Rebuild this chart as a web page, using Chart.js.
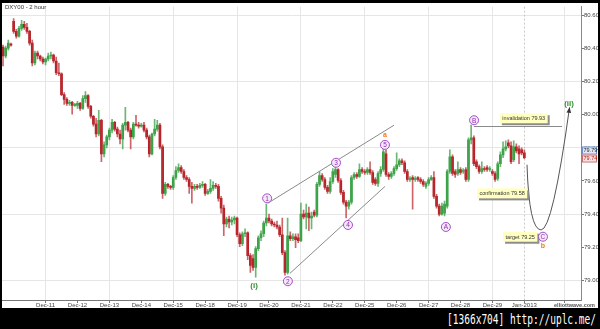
<!DOCTYPE html>
<html>
<head>
<meta charset="utf-8">
<script src="https://cdn.jsdelivr.net/npm/chart.js@4.4.0/dist/chart.umd.min.js"></script>
<style>
html, body { margin: 0; padding: 0; width: 600px; height: 329px; background: #000; overflow: hidden; }
#frame { position: absolute; left: 2px; top: 3px; width: 596px; height: 305px; background: #fff; }
#stamp { position: absolute; left: 447px; top: 311px; color: #fff; font: 14px "DejaVu Sans Mono", monospace;
  white-space: nowrap; transform: scaleX(0.68); transform-origin: left top; line-height: 16px; }
</style>
</head>
<body>
<div id="frame"><canvas id="chart" width="596" height="305"></canvas></div>
<div id="stamp">[1366x704] http://uplc.me/</div>
<script>
// 2-hour candles, one entry per bar
const opens = [80.409,80.355,80.403,80.427,80.564,80.504,80.475,80.522,80.546,80.528,
  80.504,80.433,80.313,80.373,80.355,80.337,80.319,80.337,80.355,80.361,
  80.325,80.254,80.248,80.122,80.093,80.069,80.075,80.057,80.057,80.069,
  80.039,80.098,80.116,80.051,79.991,79.943,79.884,79.967,79.764,79.818,
  79.866,79.907,79.955,79.913,79.884,79.854,79.937,79.955,79.907,79.866,
  79.943,79.937,79.931,79.937,79.907,79.866,79.764,79.884,79.913,79.937,
  79.806,79.525,79.579,79.567,79.561,79.621,79.663,79.681,79.657,79.621,
  79.609,79.567,79.555,79.567,79.561,79.573,79.579,79.525,79.537,79.555,
  79.573,79.567,79.495,79.436,79.340,79.370,79.352,79.364,79.376,79.275,
  79.221,79.281,79.287,79.149,79.131,79.078,79.191,79.257,79.281,79.346,
  79.376,79.358,79.340,79.334,79.322,79.275,79.167,79.048,79.269,79.251,
  79.263,79.257,79.239,79.400,79.382,79.406,79.376,79.412,79.394,79.579,
  79.633,79.609,79.561,79.537,79.597,79.639,79.669,79.603,79.531,79.472,
  79.448,79.472,79.621,79.639,79.627,79.669,79.657,79.651,79.669,79.651,
  79.609,79.585,79.645,79.669,79.764,79.639,79.627,79.645,79.675,79.698,
  79.722,79.710,79.657,79.609,79.621,79.609,79.621,79.609,79.597,79.567,
  79.585,79.609,79.621,79.507,79.448,79.400,79.406,79.448,79.657,79.746,
  79.657,79.645,79.669,79.657,79.669,79.609,79.848,79.860,79.716,79.687,
  79.657,79.675,79.681,79.669,79.657,79.645,79.615,79.704,79.758,79.794,
  79.830,79.812,79.728,79.806,79.794,79.788,79.770];
const highs = [80.421,80.415,80.451,80.433,80.582,80.516,80.534,80.570,80.564,80.552,
  80.510,80.451,80.385,80.385,80.361,80.349,80.343,80.373,80.379,80.367,
  80.349,80.313,80.254,80.134,80.104,80.087,80.081,80.069,80.081,80.075,
  80.116,80.140,80.122,80.057,79.997,79.979,80.027,79.973,79.836,79.878,
  79.919,79.973,79.961,79.925,79.907,79.949,80.045,79.961,79.919,79.955,
  79.997,79.955,79.949,79.955,79.919,79.878,79.890,79.973,79.967,79.949,
  79.818,79.591,79.585,79.573,79.633,79.687,79.704,79.693,79.669,79.633,
  79.621,79.591,79.579,79.579,79.585,79.597,79.585,79.549,79.609,79.597,
  79.585,79.579,79.507,79.454,79.382,79.388,79.382,79.388,79.382,79.287,
  79.293,79.310,79.293,79.161,79.155,79.203,79.269,79.299,79.358,79.460,
  79.400,79.370,79.352,79.358,79.334,79.376,79.179,79.376,79.293,79.281,
  79.281,79.281,79.466,79.424,79.460,79.442,79.412,79.424,79.591,79.657,
  79.645,79.621,79.573,79.621,79.675,79.687,79.675,79.615,79.543,79.483,
  79.483,79.633,79.651,79.651,79.704,79.681,79.669,79.681,79.716,79.663,
  79.621,79.657,79.687,79.800,79.788,79.651,79.657,79.687,79.770,79.734,
  79.734,79.722,79.669,79.627,79.633,79.627,79.627,79.621,79.609,79.597,
  79.621,79.633,79.657,79.519,79.460,79.466,79.478,79.669,79.788,79.758,
  79.669,79.716,79.681,79.675,79.681,79.860,79.937,79.872,79.728,79.698,
  79.716,79.687,79.693,79.687,79.669,79.657,79.716,79.776,79.836,79.842,
  79.848,79.836,79.842,79.824,79.812,79.800,79.788];
const lows = [80.295,80.343,80.391,80.415,80.492,80.463,80.469,80.510,80.516,80.492,
  80.421,80.295,80.301,80.337,80.325,80.307,80.301,80.325,80.337,80.313,
  80.242,80.236,80.116,80.063,80.057,80.057,80.003,80.051,80.039,80.027,
  80.033,80.075,80.039,79.979,79.931,79.866,79.872,79.716,79.746,79.800,
  79.848,79.890,79.901,79.866,79.824,79.794,79.907,79.896,79.794,79.854,
  79.931,79.919,79.925,79.896,79.854,79.746,79.758,79.872,79.901,79.794,
  79.495,79.513,79.555,79.549,79.549,79.609,79.651,79.645,79.609,79.597,
  79.525,79.466,79.543,79.549,79.555,79.561,79.513,79.519,79.525,79.543,
  79.555,79.478,79.406,79.269,79.322,79.316,79.334,79.340,79.263,79.203,
  79.209,79.263,79.125,79.048,79.060,79.018,79.179,79.239,79.263,79.328,
  79.346,79.328,79.322,79.310,79.263,79.155,79.030,79.036,79.239,79.239,
  79.197,79.227,79.233,79.370,79.310,79.299,79.310,79.382,79.382,79.567,
  79.597,79.549,79.525,79.525,79.585,79.621,79.591,79.519,79.460,79.376,
  79.430,79.460,79.609,79.615,79.621,79.645,79.639,79.639,79.639,79.579,
  79.573,79.567,79.627,79.657,79.627,79.609,79.615,79.633,79.663,79.687,
  79.698,79.645,79.597,79.597,79.430,79.597,79.597,79.585,79.567,79.555,
  79.573,79.603,79.495,79.436,79.388,79.394,79.388,79.436,79.645,79.633,
  79.621,79.633,79.639,79.645,79.597,79.597,79.824,79.693,79.675,79.645,
  79.645,79.657,79.657,79.657,79.633,79.597,79.603,79.687,79.740,79.782,
  79.800,79.704,79.716,79.770,79.704,79.758,79.734];
const closes = [80.355,80.403,80.433,80.421,80.504,80.475,80.522,80.546,80.528,80.504,
  80.433,80.313,80.373,80.355,80.337,80.319,80.337,80.355,80.361,80.325,
  80.254,80.248,80.122,80.093,80.069,80.075,80.057,80.063,80.069,80.039,
  80.098,80.116,80.051,79.991,79.943,79.884,79.967,79.764,79.818,79.866,
  79.907,79.955,79.913,79.884,79.854,79.937,79.955,79.907,79.866,79.943,
  79.937,79.931,79.937,79.907,79.866,79.764,79.884,79.913,79.937,79.806,
  79.525,79.579,79.567,79.561,79.621,79.663,79.681,79.657,79.621,79.609,
  79.567,79.555,79.567,79.561,79.573,79.579,79.525,79.537,79.555,79.573,
  79.567,79.495,79.436,79.340,79.370,79.352,79.364,79.376,79.275,79.221,
  79.281,79.287,79.149,79.089,79.078,79.191,79.257,79.281,79.346,79.376,
  79.358,79.340,79.334,79.322,79.275,79.167,79.048,79.269,79.251,79.263,
  79.245,79.239,79.400,79.382,79.406,79.376,79.388,79.394,79.579,79.633,
  79.609,79.561,79.537,79.597,79.657,79.669,79.603,79.531,79.472,79.448,
  79.472,79.621,79.639,79.627,79.669,79.657,79.651,79.669,79.651,79.591,
  79.585,79.645,79.669,79.776,79.639,79.627,79.645,79.675,79.698,79.722,
  79.710,79.657,79.609,79.615,79.609,79.615,79.609,79.597,79.579,79.585,
  79.609,79.621,79.507,79.448,79.400,79.448,79.460,79.657,79.746,79.645,
  79.639,79.669,79.651,79.663,79.609,79.848,79.860,79.704,79.687,79.657,
  79.675,79.669,79.669,79.675,79.645,79.609,79.704,79.758,79.794,79.806,
  79.812,79.716,79.806,79.782,79.764,79.770,79.740];

// axis ticks (bar index of each day label)
const dayLabels = ['Dec-11','Dec-12','Dec-13','Dec-14','Dec-15','Dec-18','Dec-19','Dec-20',
  'Dec-21','Dec-22','Dec-25','Dec-26','Dec-27','Dec-28','Dec-29','Jan-2013',''];
const dayTicks = [16,28,40,52,64,76,88,100,112,124,136,148,160,172,184,196,211];
const gridTicks = [16,40,64,88,112,136,160,184,211];
const priceTicks = [79.0,79.2,79.4,79.6,79.8,80.0,80.2,80.4,80.6];
const nowIdx = 196;

// wave count annotations
const waveText = ['1','2','3','4','5','A','B','C'];
const waveX = [99.3,107.1,125.2,129.7,143.6,166.5,177.1,203.0];
const waveY = [79.495,78.994,79.710,79.334,79.818,79.322,79.967,79.263];
const degreeText = ['(i)','(ii)'];
const degreeX = [94.4,212.8];
const degreeY = [78.964,80.069];
const minorText = ['a','b'];
const minorX = [143.6,203.0];
const minorY = [79.878,79.209];
const upperLine = [[99.6,79.466],[147.0,79.937]];
const lowerLine = [[107.9,79.042],[143.6,79.567]];
const invalidLevel = 79.93;
const invalidSpan = [177.0,210.2];
const noteText = ['invalidation 79.93','confirmation 79.58','target 79.25'];
const noteX = [186.8,178.2,188.0];
const noteY = [79.979,79.525,79.263];
const pathX = [197.0,202.3,213.0];
const pathY = [79.698,79.304,80.045];
const lastPrices = [79.79,79.74];

const FONT = '"Liberation Sans", Arial, sans-serif';
const up = (i) => closes[i] >= opens[i];

const overlay = {
  id: 'overlay',
  beforeDatasetsDraw(chart) {
    const {ctx, chartArea, scales: {x}} = chart;
    const nx = Math.round(x.getPixelForValue(nowIdx)) + 0.5;
    ctx.save();
    ctx.strokeStyle = '#c8c8c8';
    ctx.lineWidth = 1;
    ctx.setLineDash([2, 2]);
    ctx.beginPath();
    ctx.moveTo(nx, chartArea.top);
    ctx.lineTo(nx, chartArea.bottom);
    ctx.stroke();
    ctx.restore();
  },
  afterDatasetsDraw(chart) {
    const {ctx, scales: {x, y}} = chart;
    const px = v => x.getPixelForValue(v);
    const py = v => y.getPixelForValue(v);
    ctx.save();
    ctx.lineWidth = 1;

    // channel lines
    ctx.strokeStyle = '#8a8a8a';
    [upperLine, lowerLine].forEach(l => {
      ctx.beginPath();
      ctx.moveTo(px(l[0][0]), py(l[0][1]));
      ctx.lineTo(px(l[1][0]), py(l[1][1]));
      ctx.stroke();
    });

    // invalidation level
    ctx.strokeStyle = '#8a8a8a';
    ctx.beginPath();
    ctx.moveTo(px(invalidSpan[0]), Math.round(py(invalidLevel)) + 0.5);
    ctx.lineTo(px(invalidSpan[1]), Math.round(py(invalidLevel)) + 0.5);
    ctx.stroke();

    // projected path
    const s = {x: px(pathX[0]), y: py(pathY[0])};
    const b = {x: px(pathX[1]), y: py(pathY[1])};
    const e = {x: px(pathX[2]), y: py(pathY[2])};
    const c1 = {x: s.x + (b.x - s.x) * 0.15, y: b.y};
    const c2 = {x: b.x + (e.x - b.x) * 0.4, y: b.y};
    ctx.strokeStyle = '#555';
    ctx.beginPath();
    ctx.moveTo(s.x, s.y);
    ctx.quadraticCurveTo(c1.x, c1.y, b.x, b.y);
    ctx.quadraticCurveTo(c2.x, c2.y, e.x, e.y);
    ctx.stroke();
    const ang = Math.atan2(e.y - c2.y, e.x - c2.x);
    ctx.fillStyle = '#333';
    ctx.beginPath();
    ctx.moveTo(e.x, e.y);
    ctx.lineTo(e.x - 6 * Math.cos(ang - 0.4), e.y - 6 * Math.sin(ang - 0.4));
    ctx.lineTo(e.x - 6 * Math.cos(ang + 0.4), e.y - 6 * Math.sin(ang + 0.4));
    ctx.closePath();
    ctx.fill();

    // note boxes
    ctx.font = '5.5px ' + FONT;
    ctx.textBaseline = 'middle';
    ctx.textAlign = 'left';
    noteText.forEach((t, i) => {
      const l = px(noteX[i]), cy = py(noteY[i]);
      const w = ctx.measureText(t).width + 5, h = 10;
      ctx.fillStyle = '#8c8c8c';
      ctx.fillRect(l + 2, cy - h / 2 + 2, w, h);
      ctx.fillStyle = '#ffffc2';
      ctx.fillRect(l, cy - h / 2, w, h);
      ctx.fillStyle = '#333';
      ctx.fillText(t, l + 2.5, cy + 0.5);
    });

    // circled wave labels
    ctx.textAlign = 'center';
    ctx.font = '6.5px ' + FONT;
    waveText.forEach((t, i) => {
      const cx = px(waveX[i]), cy = py(waveY[i]);
      ctx.beginPath();
      ctx.arc(cx, cy, 4.5, 0, Math.PI * 2);
      ctx.fillStyle = '#f5e8fa';
      ctx.fill();
      ctx.strokeStyle = '#a54fc8';
      ctx.stroke();
      ctx.fillStyle = '#8e2db5';
      ctx.fillText(t, cx, cy + 0.5);
    });

    ctx.font = 'bold 8px ' + FONT;
    ctx.fillStyle = '#2f8f2f';
    degreeText.forEach((t, i) => ctx.fillText(t, px(degreeX[i]), py(degreeY[i])));

    ctx.font = 'bold 7px ' + FONT;
    ctx.fillStyle = '#f07a1c';
    minorText.forEach((t, i) => ctx.fillText(t, px(minorX[i]), py(minorY[i])));
    ctx.restore();
  },
  afterDraw(chart) {
    const {ctx, chartArea, scales: {y}} = chart;
    ctx.save();
    // last price tags on the axis
    ctx.font = '5.5px ' + FONT;
    ctx.textBaseline = 'middle';
    ctx.textAlign = 'left';
    const tagFill = ['#dfe9f8', '#f9e0e0'];
    const tagLine = ['#6f90c8', '#c86f6f'];
    const tagText = ['#223', '#a22'];
    lastPrices.forEach((v, i) => {
      const cy = Math.round(y.getPixelForValue(v));
      ctx.fillStyle = tagFill[i];
      ctx.fillRect(chartArea.right + 1, cy - 3.5, 15, 7);
      ctx.strokeStyle = tagLine[i];
      ctx.strokeRect(chartArea.right + 1.5, cy - 3, 14, 7);
      ctx.fillStyle = tagText[i];
      ctx.fillText(v.toFixed(2), chartArea.right + 2.5, cy + 0.5);
    });
    // title and source
    ctx.fillStyle = '#333';
    ctx.font = '6px ' + FONT;
    ctx.textBaseline = 'top';
    ctx.fillText('DXY00 - 2 hour', 3, 1);
    ctx.fillStyle = '#555';
    ctx.font = 'bold 5.5px ' + FONT;
    ctx.textAlign = 'right';
    ctx.textBaseline = 'middle';
    ctx.fillText('elliottwave.com', 593, 302);
    ctx.restore();
  }
};

new Chart(document.getElementById('chart'), {
  type: 'bar',
  data: {
    datasets: [{
      data: highs.map((h, i) => ({x: i, y: [lows[i], h]})),
      backgroundColor: opens.map((o, i) => up(i) ? 'rgba(70,165,80,0.8)' : 'rgba(185,50,55,0.75)'),
      barThickness: 1,
      grouped: false
    }, {
      data: opens.map((o, i) => ({x: i, y: [o, closes[i]]})),
      backgroundColor: opens.map((o, i) => up(i) ? '#2f9e3c' : '#b3161c'),
      barThickness: 2,
      minBarLength: 1,
      grouped: false
    }]
  },
  options: {
    responsive: false,
    devicePixelRatio: 1,
    animation: false,
    events: [],
    layout: {padding: 0},
    plugins: {legend: {display: false}, tooltip: {enabled: false}},
    scales: {
      x: {
        type: 'linear',
        min: -0.376,
        max: 217.3,
        offset: false,
        afterBuildTicks: s => { s.ticks = dayTicks.map(v => ({value: v})); },
        afterFit: s => { s.height = 8; },
        grid: {
          offset: false,
          color: c => (c.tick && gridTicks.includes(c.tick.value)) ? '#e6e6e6' : 'rgba(0,0,0,0)',
          tickColor: '#777',
          tickLength: 3
        },
        border: {color: '#777'},
        ticks: {
          autoSkip: false,
          maxRotation: 0,
          padding: -1,
          color: '#444',
          font: {size: 6, family: FONT},
          callback: (v, i) => dayLabels[i]
        }
      },
      y: {
        position: 'right',
        min: 78.8806,
        max: 80.6537,
        beginAtZero: false,
        afterBuildTicks: s => { s.ticks = priceTicks.map(v => ({value: v})); },
        afterFit: s => { s.width = 17; },
        grid: {
          color: c => (c.index % 2 === 0) ? '#e6e6e6' : 'rgba(0,0,0,0)',
          tickColor: '#777',
          tickLength: 3
        },
        border: {color: '#888'},
        ticks: {
          padding: 0,
          color: '#444',
          font: {size: 6, family: FONT},
          callback: v => v.toFixed(2)
        }
      }
    }
  },
  plugins: [overlay]
});
</script>
</body>
</html>
